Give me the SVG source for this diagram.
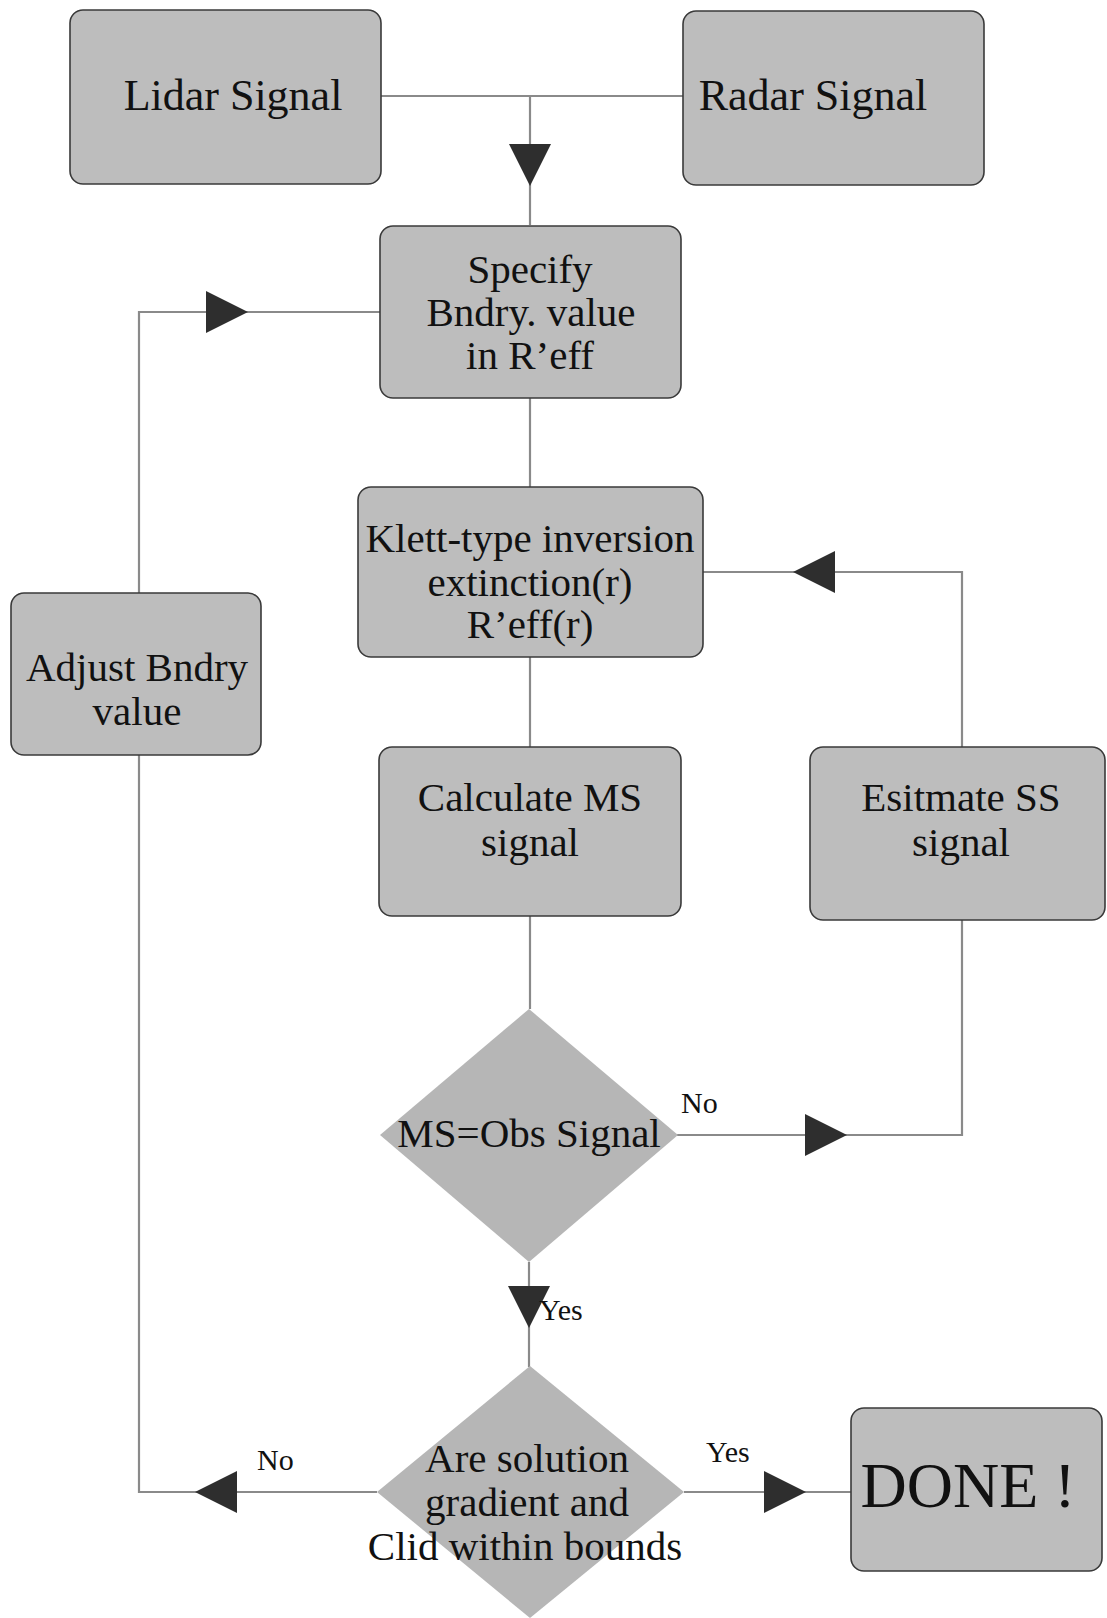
<svg xmlns="http://www.w3.org/2000/svg" width="1107" height="1618" viewBox="0 0 1107 1618">
<style>
.box{fill:#bdbdbd;stroke:#3a3a3a;stroke-width:1.6}
.dia{fill:#b6b6b6;stroke:none}
.t{font-family:"Liberation Serif","Times New Roman",serif;font-size:41px;fill:#111;text-anchor:middle}
.lbl{font-family:"Liberation Serif","Times New Roman",serif;font-size:30px;fill:#111}
.ln{fill:none;stroke:#8a8a8a;stroke-width:2.2}
</style>
<defs>
<marker id="arr" markerUnits="userSpaceOnUse" markerWidth="44" markerHeight="44" refX="42" refY="21" orient="auto">
<path d="M0,0 L42,21 L0,42 Z" fill="#2e2e2e"/>
</marker>
</defs>
<rect width="1107" height="1618" fill="#fff"/>

<g id="connectors">
<path class="ln" d="M380,96 H683"/>
<path class="ln" d="M530,96 V186" marker-end="url(#arr)"/>
<path class="ln" d="M530,186 V225"/>
<path class="ln" d="M530,397 V487"/>
<path class="ln" d="M530,657 V747"/>
<path class="ln" d="M530,916 V1009"/>
<path class="ln" d="M677,1135 H847" marker-end="url(#arr)"/>
<path class="ln" d="M847,1135 H962 V920"/>
<path class="ln" d="M962,747 V572 H793" marker-end="url(#arr)"/>
<path class="ln" d="M793,572 H703"/>
<path class="ln" d="M529,1262 V1328" marker-end="url(#arr)"/>
<path class="ln" d="M529,1328 V1367"/>
<path class="ln" d="M377,1492 H195" marker-end="url(#arr)"/>
<path class="ln" d="M195,1492 H139 V755"/>
<path class="ln" d="M139,593 V312 H248" marker-end="url(#arr)"/>
<path class="ln" d="M248,312 H380"/>
<path class="ln" d="M684,1492 H806" marker-end="url(#arr)"/>
<path class="ln" d="M806,1492 H851"/>
</g>

<g id="lidar">
<rect class="box" x="70" y="10" width="311" height="174" rx="13"/>
<text class="t" x="233" y="110" style="font-size:44px">Lidar Signal</text>
</g>
<g id="radar">
<rect class="box" x="683" y="11" width="301" height="174" rx="13"/>
<text class="t" x="813" y="110" style="font-size:44px">Radar Signal</text>
</g>
<g id="specify">
<rect class="box" x="380" y="226" width="301" height="172" rx="13"/>
<text class="t" x="530" y="283">Specify</text>
<text class="t" x="531" y="326">Bndry. value</text>
<text class="t" x="530" y="369">in R’eff</text>
</g>
<g id="klett">
<rect class="box" x="358" y="487" width="345" height="170" rx="13"/>
<text class="t" x="530" y="552">Klett-type inversion</text>
<text class="t" x="530" y="596">extinction(r)</text>
<text class="t" x="530" y="638">R’eff(r)</text>
</g>
<g id="adjust">
<rect class="box" x="11" y="593" width="250" height="162" rx="13"/>
<text class="t" x="137" y="681">Adjust Bndry</text>
<text class="t" x="137" y="725">value</text>
</g>
<g id="calc">
<rect class="box" x="379" y="747" width="302" height="169" rx="13"/>
<text class="t" x="530" y="811">Calculate MS</text>
<text class="t" x="530" y="856">signal</text>
</g>
<g id="estimate">
<rect class="box" x="810" y="747" width="295" height="173" rx="13"/>
<text class="t" x="961" y="811">Esitmate SS</text>
<text class="t" x="961" y="856">signal</text>
</g>
<g id="ms-obs">
<polygon class="dia" points="529,1009 678,1135 529,1262 380,1135"/>
<text class="t" x="529" y="1147">MS=Obs Signal</text>
</g>
<g id="bounds">
<polygon class="dia" points="530,1366 684,1492 530,1618 377,1492"/>
<text class="t" x="527" y="1472">Are solution</text>
<text class="t" x="527" y="1516">gradient and</text>
<text class="t" x="525" y="1560">Clid within bounds</text>
</g>
<g id="done">
<rect class="box" x="851" y="1408" width="251" height="163" rx="13"/>
<text class="t" x="968" y="1507" style="font-size:64px">DONE !</text>
</g>
<g id="labels">
<text class="lbl" x="681" y="1113">No</text>
<text class="lbl" x="539" y="1320">Yes</text>
<text class="lbl" x="257" y="1470">No</text>
<text class="lbl" x="706" y="1462">Yes</text>
</g>
</svg>
